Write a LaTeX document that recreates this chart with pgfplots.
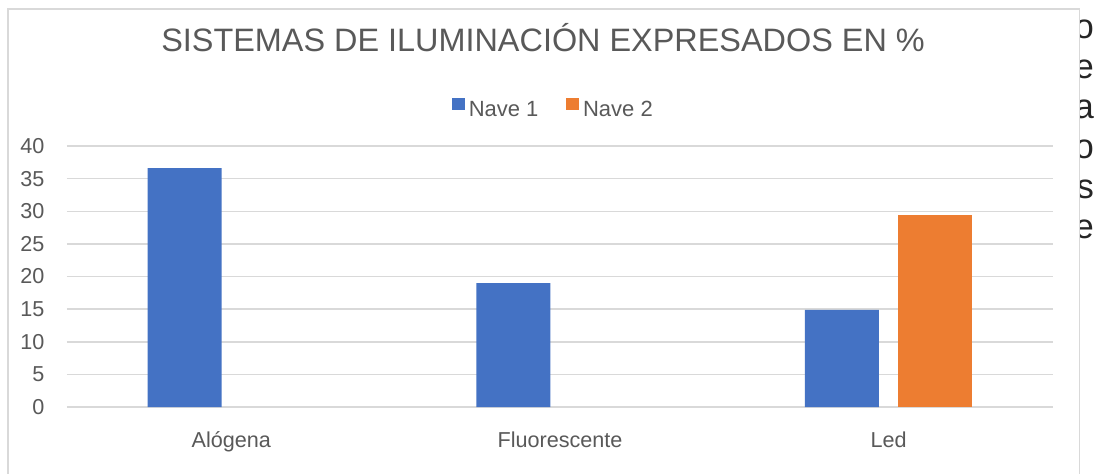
\documentclass[border=0pt]{standalone}
\usepackage{fontspec}
\setmainfont{Liberation Sans}
\usepackage{pgfplots}
\pgfplotsset{compat=1.18}
\definecolor{barblue}{HTML}{4472C4}
\definecolor{barorange}{HTML}{ED7D31}
\definecolor{gridgray}{HTML}{D9D9D9}
\definecolor{textgray}{HTML}{595959}
\begin{document}
\begin{tikzpicture}
\useasboundingbox (-33.5pt,-33pt) rectangle (515pt,203.5pt);
% stray letters of the surrounding document text
\foreach \l/\y in {o/184.5,e/164.5,a/144.5,o/124.5,s/104.5,e/84.5}{
  \node[anchor=base east, inner sep=0pt, font=\fontsize{17.3}{20}\selectfont, text=black!85] at (513.6pt,\y pt) {\l};
}
% chart area
\filldraw[fill=white, draw=gridgray, line width=0.75pt] (-29.5pt,-45pt) rectangle (506.35pt,199pt);
\begin{axis}[
  scale only axis,
  width=493pt, height=130.5pt,
  xmin=-0.5, xmax=2.5, ymin=0, ymax=40,
  ybar=9.7pt, bar width=37pt,
  axis line style={draw=none},
  tick style={draw=none},
  ymajorgrids,
  grid style={color=gridgray, line width=0.75pt},
  ytick={0,5,...,40},
  xtick={0,1,2},
  xticklabels={Alógena,Fluorescente,Led},
  /pgf/number format/assume math mode=true,
  ticklabel style={font=\fontsize{10.8}{12}\selectfont, text=textgray},
  yticklabel style={anchor=east, inner sep=0pt, xshift=-11.15pt},
  xticklabel style={anchor=base, inner sep=0pt, yshift=-15.8pt},
  title={SISTEMAS DE ILUMINACIÓN EXPRESADOS EN \%},
  title style={at={(0.4828,1.3169)}, anchor=base, inner sep=0pt, font=\fontsize{16.2}{19}\selectfont, text=textgray},
  legend columns=2,
  legend style={draw=none, fill=none, at={(0.4944,1.137)}, anchor=center,
    font=\fontsize{11}{12}\selectfont, text=textgray,
    nodes={inner sep=2pt},
    /tikz/every even column/.append style={column sep=12pt}},
  legend cell align=left,
]
\addplot[fill=barblue, draw=none, legend image code/.code={\fill[barblue] (0pt,0pt) rectangle (6.3pt,6.3pt);}]
  coordinates {(0,36.6) (1,19.0) (2,14.9)};
\addplot[fill=barorange, draw=none, legend image code/.code={\fill[barorange] (0pt,0pt) rectangle (6.3pt,6.3pt);}]
  coordinates {(2,29.5)};
\legend{Nave 1,Nave 2}
\end{axis}
\end{tikzpicture}
\end{document}
